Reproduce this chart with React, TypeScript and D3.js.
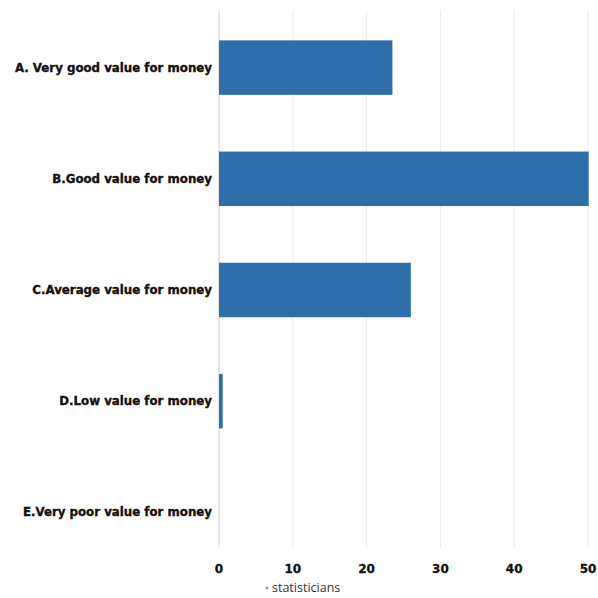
import React from "react";
import * as d3 from "d3";

const categories = [
  "A. Very good value for money",
  "B.Good value for money",
  "C.Average value for money",
  "D.Low value for money",
  "E.Very poor value for money",
];
const values = [23.5, 50.1, 26, 0.5, 0];
const xTicks = [0, 10, 20, 30, 40, 50];
const legendLabel = "statisticians";

export default function App() {
  const W = 598, H = 598;
  const x = d3.scaleLinear().domain([0, 50]).range([219, 588]);
  const y = d3.scaleBand<string>().domain(categories).range([12, 568]).paddingInner(0.51).paddingOuter(0.255);
  const color = "#2e6fab";
  return (
    <svg width={W} height={H} style={{ position: "absolute", left: 0, top: 0, background: "#fff" }}>
      {xTicks.map((t) => (
        <line key={"g" + t} x1={x(t)} x2={x(t)} y1={10} y2={548} stroke="#ececec" strokeWidth={1} />
      ))}
      <line x1={x(0)} x2={x(0)} y1={12} y2={545} stroke="#d6d6d6" strokeWidth={1} />
      {categories.map((c, i) => (
        <rect key={c} x={x(0)} y={y(c)} width={Math.max(0, x(values[i]) - x(0))} height={y.bandwidth()} fill={color} />
      ))}
      {categories.map((c) => (
        <text key={"l" + c} x={212} y={(y(c) as number) + y.bandwidth() / 2} textAnchor="end" dominantBaseline="central"
          fontFamily="DejaVu Sans" fontWeight="bold" fontSize={11.8} fill="#111" stroke="#111" strokeWidth={0.35}>{c}</text>
      ))}
      {xTicks.map((t) => (
        <text key={"t" + t} x={x(t)} y={573} textAnchor="middle" fontFamily="DejaVu Sans" fontWeight="bold" fontSize={12} fill="#111" stroke="#111" strokeWidth={0.3}>{t}</text>
      ))}
      <circle cx={267} cy={588} r={1.5} fill="#999" />
      <text x={272} y={592} fontFamily="Open Sans" fontSize={12.5} fill="#333">{legendLabel}</text>
    </svg>
  );
}
